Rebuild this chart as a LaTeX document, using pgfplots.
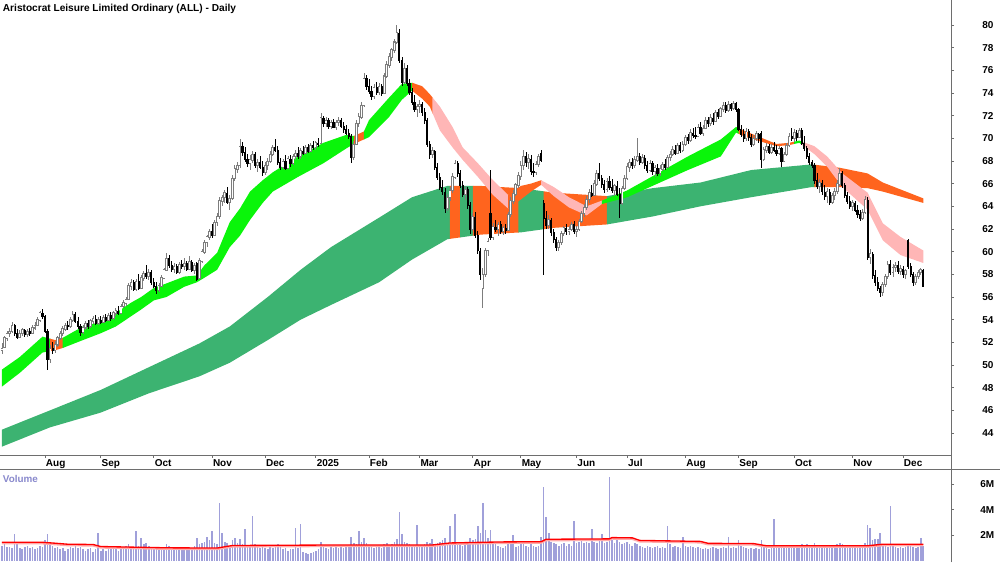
\documentclass[border=0pt]{standalone}
\usepackage{pgfplots}
\pgfplotsset{compat=1.18}
\usepackage{pgfplotstable}
\usepgfplotslibrary{fillbetween}
\usepackage{fontspec}
\setmainfont{Liberation Sans}
\definecolor{lgreen}{RGB}{10,245,10}
\definecolor{dgreen}{RGB}{60,179,113}
\definecolor{orng}{RGB}{255,100,30}
\definecolor{pnk}{RGB}{255,182,182}
\definecolor{volc}{RGB}{136,136,204}
\definecolor{volbar}{RGB}{160,160,218}
\definecolor{upc}{RGB}{125,125,125}
\definecolor{axc}{RGB}{110,110,110}
\definecolor{halo}{RGB}{255,170,170}

\pgfplotstableread{
i o h l c v
0 51.3 51.9 51.0 51.5 1.2
1 51.6 52.6 51.5 52.4 1.3
2 52.4 53.0 52.1 52.8 1.1
3 52.8 53.3 52.5 53.0 1.1
4 53.0 53.8 52.8 53.5 1.0
5 53.5 53.6 52.6 52.8 2.1
6 52.8 53.2 52.3 52.5 1.3
7 52.5 53.1 52.4 52.8 1.0
8 52.8 53.3 52.6 53.1 0.9
9 53.1 53.2 52.5 52.7 1.1
10 52.7 53.2 52.5 53.0 1.2
11 53.0 53.3 52.6 52.8 1.0
12 52.8 53.5 52.7 53.3 1.1
13 53.3 53.8 53.1 53.5 0.9
14 53.5 54.2 53.4 54.0 1.0
15 54.0 54.8 53.8 54.6 1.2
16 54.6 54.9 54.1 54.3 1.1
17 54.3 54.4 52.8 53.0 1.6
18 53.0 53.2 49.6 50.5 2.1
19 50.5 51.8 50.2 51.5 1.5
20 51.5 52.0 51.0 51.3 1.2
21 51.3 52.1 51.1 51.8 1.0
22 51.8 52.6 51.6 52.4 1.1
23 52.4 53.0 52.2 52.8 0.9
24 52.8 53.4 52.6 53.2 1.0
25 53.2 53.7 53.0 53.5 0.8
26 53.5 53.9 53.1 53.4 0.9
27 53.4 54.2 53.3 54.0 1.1
28 54.0 54.8 53.8 54.5 1.0
29 54.5 54.7 53.7 53.9 1.2
30 53.9 54.2 53.2 53.4 1.0
31 53.4 53.6 52.6 52.9 1.1
32 52.9 53.5 52.7 53.3 0.9
33 53.3 53.9 53.1 53.7 0.8
34 53.7 54.0 53.2 53.4 0.9
35 53.4 54.1 53.3 53.9 1.0
36 53.9 54.3 53.6 54.1 0.7
37 54.1 54.4 53.5 53.7 0.9
38 53.7 54.2 53.5 54.0 2.2
39 54.0 54.3 53.6 53.8 0.8
40 53.8 54.4 53.7 54.2 0.9
41 54.2 54.5 53.8 54.0 0.8
42 54.0 54.6 53.9 54.4 0.9
43 54.4 54.7 53.9 54.1 1.0
44 54.1 54.8 54.0 54.6 0.9
45 54.6 55.0 54.3 54.8 1.0
46 54.8 55.2 54.4 54.6 0.8
47 54.6 55.4 54.5 55.2 1.1
48 55.2 55.7 55.0 55.5 1.0
49 55.5 56.0 55.2 55.8 1.2
50 55.8 57.2 55.7 57.0 1.3
51 57.0 57.6 56.6 57.3 1.1
52 57.3 57.5 56.5 56.7 1.0
53 56.7 57.6 56.5 57.4 2.3
54 57.4 58.0 56.6 56.8 1.2
55 56.8 57.9 56.7 57.7 1.8
56 57.7 58.3 57.4 58.1 1.3
57 58.1 58.8 57.6 57.8 1.4
58 57.8 58.5 57.5 58.2 1.2
59 58.2 58.4 57.1 57.3 1.1
60 57.3 57.7 56.8 57.0 1.0
61 57.0 57.3 56.3 56.6 1.1
62 56.6 57.2 56.4 57.0 0.9
63 57.0 57.9 56.9 57.7 1.0
64 57.7 58.6 57.6 58.4 1.1
65 58.4 59.9 58.3 59.4 1.3
66 59.4 59.7 58.6 58.8 1.2
67 58.8 59.2 58.2 58.5 1.0
68 58.5 59.0 58.1 58.7 0.9
69 58.7 58.9 58.0 58.2 1.0
70 58.2 59.1 58.0 58.9 1.1
71 58.9 59.3 58.5 58.7 1.0
72 58.7 59.4 58.4 59.0 0.9
73 59.0 59.2 58.3 58.5 1.0
74 58.5 59.6 58.4 59.1 1.1
75 59.1 59.3 58.2 58.4 1.0
76 58.4 59.0 58.0 58.8 1.2
77 59.0 59.1 57.4 57.6 1.8
78 57.7 59.4 57.6 59.2 1.3
79 59.2 60.2 59.0 60.0 1.4
80 60.0 61.0 59.8 60.8 1.5
81 60.8 61.5 60.4 61.3 1.9
82 61.3 62.0 61.0 61.8 1.6
83 61.8 62.4 61.2 61.5 2.3
84 61.5 62.8 61.4 62.6 1.4
85 62.6 63.4 62.3 63.1 1.3
86 63.1 64.8 62.9 64.5 4.5
87 64.5 65.0 64.0 64.8 2.2
88 64.8 65.4 64.3 65.2 1.5
89 65.2 65.7 64.2 64.4 1.4
90 64.4 65.0 63.7 64.7 1.2
91 64.7 66.8 64.6 66.5 1.6
92 66.5 67.6 66.2 67.3 1.8
93 67.3 67.9 66.9 67.6 1.4
94 67.6 69.9 67.4 69.3 1.7
95 69.3 69.7 68.4 68.8 1.3
96 68.8 69.2 67.9 68.2 2.5
97 68.2 68.6 67.5 67.8 1.2
98 67.8 68.5 67.2 68.1 1.1
99 68.1 68.9 67.8 68.6 3.5
100 68.6 68.8 67.4 67.6 1.3
101 67.6 68.2 67.0 67.9 1.1
102 67.9 68.4 67.3 67.5 1.0
103 67.5 68.0 66.7 67.0 1.2
104 67.0 67.9 66.8 67.6 1.0
105 67.6 68.3 67.2 68.0 0.9
106 68.0 68.9 67.8 68.6 1.1
107 68.6 69.4 68.4 69.2 1.0
108 69.2 69.9 68.8 69.0 1.2
109 69.0 69.3 67.6 67.9 1.3
110 67.9 68.3 67.2 67.5 1.1
111 67.5 68.2 67.3 68.0 0.9
112 68.0 68.5 67.2 67.4 1.0
113 67.4 68.4 67.3 68.2 0.8
114 68.2 68.5 67.5 67.8 0.9
115 67.8 68.6 67.6 68.4 0.9
116 68.4 69.0 68.1 68.7 2.6
117 68.7 69.2 68.2 68.4 1.0
118 68.4 69.1 68.2 68.9 2.9
119 68.9 69.3 68.5 68.7 0.7
120 68.7 69.4 68.6 69.2 0.6
121 69.2 69.5 68.7 68.9 0.5
122 68.9 69.6 68.8 69.4 0.6
123 69.4 69.8 69.0 69.2 0.7
124 69.2 69.8 69.0 69.6 0.8
125 69.6 70.0 69.2 69.5 0.9
126 69.6 72.2 69.5 71.8 1.5
127 71.8 72.0 71.0 71.3 1.2
128 71.3 71.9 71.0 71.6 1.0
129 71.6 71.8 70.8 71.1 0.9
130 71.1 71.6 70.8 71.4 1.1
131 71.4 71.7 70.9 71.0 1.0
132 71.0 71.6 70.7 71.4 1.2
133 71.4 71.9 71.1 71.6 1.0
134 71.6 71.8 70.9 71.1 1.1
135 71.1 71.4 70.5 70.8 1.0
136 70.8 71.2 70.3 70.5 1.2
137 70.5 70.8 69.9 70.2 1.1
138 70.2 70.4 67.8 68.3 1.9
139 68.3 69.8 68.1 69.5 1.4
140 69.5 71.6 69.4 71.3 1.3
141 71.3 72.2 71.0 71.9 2.3
142 71.9 73.2 71.7 72.9 1.5
143 72.9 75.8 72.8 75.3 1.8
144 75.3 75.6 74.3 74.6 1.4
145 74.6 75.2 73.9 74.2 1.2
146 74.2 74.6 73.4 73.7 1.1
147 73.7 74.8 73.5 74.5 1.0
148 74.5 75.0 73.8 74.1 1.2
149 74.1 74.9 73.8 74.6 1.1
150 74.6 74.8 73.7 74.0 1.0
151 74.0 75.8 73.9 75.5 1.3
152 75.5 76.8 75.3 76.5 1.4
153 76.5 77.5 76.2 77.2 1.2
154 77.2 78.0 76.8 77.8 1.3
155 77.8 78.8 77.5 78.5 1.5
156 78.5 80.0 78.3 79.3 1.7
157 79.3 79.6 76.6 76.9 3.85
158 76.9 77.2 74.6 75.0 2.1
159 75.0 76.6 74.8 76.2 1.5
160 76.2 76.5 74.6 74.9 1.4
161 74.9 75.2 73.8 74.1 1.3
162 74.1 74.4 72.9 73.2 1.2
163 73.2 73.8 72.3 72.6 1.1
164 72.6 73.0 71.9 72.8 2.8
165 72.8 73.4 72.2 73.0 1.2
166 73.0 73.2 72.0 72.3 1.1
167 72.3 72.7 71.3 71.6 1.3
168 71.6 71.8 69.2 69.5 1.5
169 69.5 69.8 68.2 68.6 1.4
170 68.6 69.2 68.3 68.9 1.7
171 68.9 69.0 67.2 67.5 1.3
172 67.5 67.8 66.3 66.6 1.4
173 66.6 66.9 65.4 65.7 1.5
174 65.7 66.3 65.0 65.3 1.6
175 65.3 65.6 63.4 63.8 1.8
176 63.8 65.1 63.6 64.8 1.4
177 64.8 65.7 64.5 65.4 2.7
178 65.4 66.9 65.2 66.6 1.4
179 66.6 68.1 66.4 67.8 3.7
180 67.8 68.0 66.6 66.9 1.5
181 66.9 67.2 65.6 65.9 1.3
182 65.9 66.2 64.8 65.1 1.2
183 65.1 65.8 64.6 65.5 1.3
184 65.5 65.7 63.8 64.1 1.5
185 64.1 64.4 61.6 62.0 1.8
186 62.0 63.4 61.8 63.1 1.6
187 63.1 63.5 61.2 61.5 1.7
188 61.5 61.8 59.8 60.1 2.7
189 60.1 60.3 57.5 58.0 2.2
190 56.8 58.6 55.0 58.0 4.5
191 58.0 60.3 57.8 60.1 2.4
192 60.1 61.2 59.6 60.9 1.8
193 63.4 67.2 61.0 61.3 2.4
194 61.3 62.5 61.0 62.2 1.5
195 62.2 62.8 61.7 62.0 1.3
196 62.0 62.6 61.4 62.4 1.2
197 62.4 62.7 61.6 61.8 1.1
198 61.8 62.3 61.5 62.1 1.0
199 62.1 62.4 61.6 61.9 1.2
200 61.9 63.5 61.8 63.3 1.3
201 63.3 64.8 63.1 64.5 1.4
202 64.5 65.4 64.2 65.1 2.0
203 65.1 66.1 64.9 65.9 1.1
204 65.9 67.0 65.6 66.7 1.2
205 66.7 68.0 66.3 67.6 1.3
206 67.6 69.0 67.2 68.4 1.4
207 68.4 68.8 67.5 67.9 1.2
208 67.9 68.6 67.3 68.2 1.1
209 68.2 68.5 66.8 67.1 1.3
210 67.1 67.8 66.6 67.0 1.2
211 67.0 68.0 66.8 67.7 1.1
212 67.7 68.6 67.5 68.4 1.2
213 68.7 69.0 67.9 68.1 1.9
214 64.3 64.6 57.9 63.0 5.8
215 63.0 63.6 62.0 62.3 3.4
216 62.3 63.2 62.0 62.8 2.2
217 62.8 63.0 61.4 61.7 1.5
218 61.7 62.0 60.8 61.1 1.4
219 61.1 61.3 60.1 60.4 1.3
220 60.4 61.0 60.1 60.8 1.2
221 60.8 61.8 60.6 61.6 1.3
222 61.6 62.3 61.4 62.1 1.4
223 62.1 62.4 61.5 61.8 1.2
224 61.8 62.3 61.5 62.0 1.3
225 62.0 62.6 61.8 62.4 1.2
226 62.4 62.7 61.6 61.8 3.1
227 61.8 62.3 61.3 62.0 1.4
228 62.0 62.9 61.8 62.7 1.5
229 62.7 63.6 62.5 63.4 1.6
230 63.4 64.2 63.1 63.9 1.4
231 63.9 64.9 63.7 64.6 1.5
232 64.6 65.5 64.3 65.2 1.4
233 65.2 65.9 64.8 65.0 2.5
234 65.0 66.3 64.9 66.0 1.5
235 66.0 67.2 65.8 66.9 1.4
236 66.9 67.8 66.2 66.5 1.6
237 66.5 66.8 65.6 66.0 2.1
238 66.0 66.3 65.2 65.5 1.4
239 65.5 66.5 65.3 66.2 1.5
240 66.2 66.7 65.4 65.7 6.6
241 65.7 66.4 65.2 65.4 1.6
242 65.4 66.0 64.9 65.8 1.4
243 65.8 66.2 64.9 65.1 1.9
244 65.1 65.6 63.0 64.3 1.5
245 64.3 65.8 64.1 65.6 1.3
246 65.6 66.8 65.4 66.5 1.4
247 66.5 67.8 66.3 67.5 1.5
248 67.5 68.2 67.0 67.9 1.3
249 67.9 68.3 67.3 67.6 1.2
250 67.6 68.4 67.4 68.1 1.4
251 68.1 70.0 67.9 68.4 1.3
252 68.4 68.7 67.6 67.9 1.2
253 67.9 68.6 67.7 68.3 1.1
254 68.3 68.5 67.3 67.6 1.0
255 67.6 68.0 66.9 67.2 1.2
256 67.2 68.1 67.0 67.8 1.1
257 67.8 68.0 66.8 67.1 1.0
258 67.1 67.6 66.6 67.4 1.1
259 67.4 67.7 66.7 66.9 1.2
260 66.9 67.6 66.7 67.3 1.0
261 67.3 67.9 67.1 67.7 1.1
262 67.7 68.2 67.2 67.5 1.0
263 67.5 68.5 67.4 68.3 2.7
264 68.3 68.9 68.0 68.6 1.3
265 68.6 69.3 68.4 69.0 1.1
266 69.0 69.4 68.5 68.7 1.2
267 68.7 69.6 68.6 69.4 1.1
268 69.4 69.7 68.7 69.0 1.0
269 69.0 69.8 68.8 69.5 1.9
270 69.5 70.3 69.3 70.1 1.2
271 70.1 70.4 69.5 69.8 1.1
272 69.8 70.8 69.7 70.5 1.2
273 70.5 70.9 70.0 70.3 1.1
274 70.3 71.0 69.9 70.2 1.0
275 70.2 71.3 70.1 71.0 1.1
276 71.0 71.4 70.3 70.5 1.0
277 70.5 71.2 70.2 70.9 0.9
278 70.9 71.9 70.8 71.6 1.0
279 71.6 71.9 71.0 71.3 0.9
280 71.3 72.1 71.1 71.8 1.0
281 71.8 72.2 71.2 71.5 1.1
282 71.5 72.5 71.4 72.3 1.0
283 72.3 72.6 71.7 72.0 0.9
284 72.0 72.8 71.9 72.6 1.0
285 72.6 73.2 72.3 72.9 1.1
286 72.9 73.2 72.2 72.5 1.0
287 72.5 73.3 72.3 73.0 1.9
288 73.0 73.1 72.4 72.7 1.0
289 72.7 73.3 72.5 73.1 1.1
290 73.1 73.2 72.3 72.6 1.0
291 72.6 72.7 70.6 70.8 1.6
292 70.8 71.2 70.1 70.4 1.2
293 70.4 70.8 69.7 70.0 1.1
294 70.0 70.9 69.8 70.6 1.0
295 70.6 70.8 69.8 70.1 0.9
296 70.1 70.4 69.2 69.5 1.0
297 69.5 70.3 69.3 70.0 0.9
298 70.0 70.6 69.8 70.4 1.0
299 70.4 70.5 69.6 70.0 0.9
300 70.5 70.6 67.4 68.2 1.6
301 68.2 69.2 68.0 69.0 1.1
302 69.0 69.6 68.7 69.3 1.0
303 69.3 69.5 68.6 68.8 0.9
304 68.8 69.5 68.6 69.2 1.0
305 69.2 69.7 68.8 69.0 3.3
306 69.0 69.4 68.4 68.7 1.2
307 68.7 69.3 68.5 69.1 1.0
308 69.1 69.2 67.5 68.0 1.1
309 68.0 68.8 67.9 68.6 1.0
310 68.6 69.6 68.4 69.4 1.1
311 69.4 70.5 69.2 70.2 1.2
312 70.2 70.9 69.8 70.0 1.0
313 70.0 70.8 69.7 70.5 1.1
314 70.5 70.7 69.8 70.1 1.0
315 70.1 70.9 70.0 70.7 1.2
316 70.7 70.9 69.4 69.6 1.3
317 69.6 70.2 68.9 69.1 1.2
318 69.1 69.3 68.2 68.4 1.3
319 68.4 68.7 67.6 67.9 1.2
320 67.9 68.1 67.4 67.6 1.1
321 67.6 67.8 66.0 66.3 1.4
322 66.3 66.9 65.5 65.8 1.2
323 65.8 66.4 65.2 66.1 1.1
324 66.1 66.3 65.0 65.3 1.2
325 65.3 65.9 64.6 64.9 1.1
326 64.9 65.6 64.3 65.3 1.0
327 65.3 65.5 64.1 64.4 1.1
328 64.4 65.2 64.2 65.0 1.2
329 65.0 65.6 64.6 65.3 1.1
330 65.3 66.3 65.1 66.0 1.3
331 66.0 67.4 65.8 66.9 1.4
332 66.9 67.1 65.6 65.9 1.3
333 65.9 66.1 64.7 65.0 1.2
334 65.0 65.3 64.2 64.5 1.1
335 64.5 64.9 63.8 64.0 1.2
336 64.0 64.6 63.6 64.3 1.0
337 64.3 64.5 63.5 63.7 1.1
338 63.7 64.1 63.0 63.3 1.2
339 63.3 63.7 62.7 63.0 1.1
340 63.0 63.8 62.8 63.5 1.2
341 63.5 64.9 63.3 64.6 1.4
342 64.6 64.8 59.3 59.5 2.8
343 59.5 60.2 58.9 59.8 2.6
344 59.8 60.0 57.6 57.9 1.6
345 57.9 58.4 57.0 57.3 1.7
346 57.3 57.8 56.5 56.8 1.7
347 56.8 57.0 56.0 56.4 2.2
348 56.4 57.3 56.1 57.1 1.2
349 57.1 58.0 56.9 57.8 1.3
350 57.8 59.2 57.6 58.9 1.1
351 58.9 59.3 57.9 58.2 4.3
352 58.2 58.9 57.8 58.6 1.2
353 58.6 59.1 58.2 58.8 1.1
354 58.8 59.2 58.0 58.3 1.0
355 58.3 58.8 57.9 58.5 1.1
356 58.5 58.7 57.7 58.0 1.0
357 58.0 58.5 57.6 58.3 1.1
358 61.0 61.1 58.5 58.7 1.3
359 58.7 59.0 57.8 58.0 1.2
360 58.0 58.2 57.0 57.3 1.1
361 57.3 58.0 57.1 57.8 1.0
362 57.8 58.4 57.6 58.2 1.1
363 58.2 58.6 57.9 58.4 1.8
364 58.4 58.5 56.9 57.0 1.2
}\candles

\pgfplotstableread{
i su sl
0 49.6 48.1
7 50.7 49.3
16 52.5 51.1
21 52.2 51.3
24 52.4 51.5
32 53.4 52.2
39 53.8 52.8
45 54.6 53.4
51 55.5 54.3
55 56.0 54.9
60 56.8 55.7
65 57.2 56.0
72 57.8 56.9
77 57.9 57.3
80 58.8 57.7
85 59.9 58.4
90 62.6 60.4
94 63.8 61.4
98 65.3 62.8
103 66.3 64.3
107 67.0 65.3
117 68.4 66.6
127 69.6 67.8
136 70.3 69.1
139 70.2 69.5
143 70.6 69.9
145 71.6 70.1
153 73.6 71.9
158 74.8 73.4
162 74.9 74.2
166 74.6 73.5
169 73.9 72.8
173 72.8 70.7
178 71.0 69.2
182 69.2 68.1
188 67.8 66.6
194 66.3 65.0
200 65.0 63.8
205 65.8 64.6
209 66.0 65.3
213 66.3 65.9
218 65.7 64.9
224 64.8 63.9
231 64.0 63.2
237 64.5 64.2
247 65.4 64.8
259 66.9 66.0
271 68.4 67.2
284 69.9 68.4
290 71.0 70.5
294 70.6 70.1
306 69.5 69.3
311 69.6 69.4
315 69.8 69.6
321 69.3 68.6
326 68.4 67.5
332 66.9 65.7
342 65.2 63.7
348 62.5 61.0
355 61.3 59.7
364 60.1 59.0
}\shortr

\pgfplotstableread{
i lu ll
0 44.3 42.8
19 46.0 44.5
39 47.8 45.8
58 49.8 47.5
78 51.9 49.0
90 53.4 50.2
105 56.0 52.2
118 58.4 54.0
130 60.4 55.3
149 63.0 57.3
162 64.8 59.3
176 65.8 61.1
189 65.8 61.5
205 65.6 61.7
218 65.2 62.1
239 64.9 62.4
257 65.6 63.1
276 66.1 64.0
296 67.2 64.8
320 67.7 65.7
331 67.4 65.7
342 66.9 65.6
348 66.1 65.3
364 64.7 64.3
}\longr

\pgfplotstableread{
i m
0 1.45
16 1.45
21 1.38
26 1.30
36 1.28
39 1.12
65 1.02
85 1.00
91 1.20
131 1.24
170 1.24
177 1.40
197 1.48
213 1.50
215 1.69
240 1.72
241 1.82
249 1.80
252 1.60
276 1.52
279 1.37
297 1.35
302 1.18
342 1.18
348 1.30
364 1.30
}\volma

\newcommand{\seg}[4]{\addplot [fill=#1] fill between [of=#2, soft clip={(axis cs:#3,40) rectangle (axis cs:#4,85)}];}

\begin{document}
\begin{tikzpicture}
\begin{axis}[
  at={(0pt,80.25pt)}, anchor=south west,
  scale only axis, width=713.25pt, height=341.25pt,
  xmin=-0.79, xmax=374.95, ymin=42.06, ymax=82.2,
  axis x line*=bottom, axis y line*=right,
  axis line style={draw=axc, line width=0.6pt},
  tick align=outside, major tick length=2.25pt,
  tick style={draw=axc, line width=0.6pt},
  ytick={44,46,...,80},
  /pgf/number format/assume math mode=true,
  yticklabel style={font=\bfseries\fontsize{7.5}{9}\selectfont, anchor=west, inner sep=0pt},
  yticklabel shift=21pt,
  xtick={17,39,60,83,104,124,145,165,186,205,227,247,270,291,313,336,356},
  xticklabels={Aug,Sep,Oct,Nov,Dec,2025,Feb,Mar,Apr,May,Jun,Jul,Aug,Sep,Oct,Nov,Dec},
  xticklabel style={font=\bfseries\fontsize{7.5}{9}\selectfont, anchor=base west, inner sep=0pt, xshift=0.5pt, yshift=-6pt},
]
% long ribbon
\addplot [draw=none, name path=lu] table [x=i, y=lu] {\longr};
\addplot [draw=none, name path=ll] table [x=i, y=ll] {\longr};
\seg{dgreen}{lu and ll}{-1}{177.2}
\seg{orng}{lu and ll}{177}{181.2}
\seg{dgreen}{lu and ll}{181}{186.2}
\seg{orng}{lu and ll}{186}{204.2}
\seg{dgreen}{lu and ll}{204}{214.2}
\seg{orng}{lu and ll}{214}{239.2}
\seg{dgreen}{lu and ll}{239}{321.2}
\seg{orng}{lu and ll}{321}{365}
% short ribbon
\addplot [draw=none, name path=su] table [x=i, y=su] {\shortr};
\addplot [draw=none, name path=sl] table [x=i, y=sl] {\shortr};
\seg{lgreen}{su and sl}{-1}{19.2}
\seg{orng}{su and sl}{19}{24.2}
\seg{lgreen}{su and sl}{24}{139.2}
\seg{orng}{su and sl}{139}{143.2}
\seg{lgreen}{su and sl}{143}{162.2}
\seg{orng}{su and sl}{162}{170.2}
\seg{pnk}{su and sl}{170}{200.2}
\seg{orng}{su and sl}{200}{213.2}
\seg{pnk}{su and sl}{213}{237.2}
\seg{lgreen}{su and sl}{237}{291.2}
\seg{orng}{su and sl}{291}{313.2}
\seg{lgreen}{su and sl}{313}{316.2}
\seg{pnk}{su and sl}{316}{365}
% up candles: wicks and hollow bodies
\addplot [draw=none, mark=none, restrict expr to domain={\thisrow{c}-\thisrow{o}}{0:100},
  error bars/.cd, y dir=both, y explicit, error mark=none,
  error bar style={draw=upc, line width=0.6pt}]
  table [x=i, y=c, y error plus expr=\thisrow{h}-\thisrow{c}, y error minus expr=\thisrow{c}-\thisrow{l}] {\candles};
\addplot [draw=none, mark=none, restrict expr to domain={\thisrow{c}-\thisrow{o}}{0:100},
  error bars/.cd, y dir=minus, y explicit, error mark=none,
  error bar style={draw=upc, line width=2.0pt}]
  table [x=i, y expr=\thisrow{c}+0.04, y error minus expr=\thisrow{c}-\thisrow{o}+0.12] {\candles};
\addplot [draw=none, mark=none, restrict expr to domain={\thisrow{c}-\thisrow{o}}{0.2:100},
  error bars/.cd, y dir=minus, y explicit, error mark=none,
  error bar style={draw=white, line width=0.85pt}]
  table [x=i, y expr=\thisrow{c}-0.05, y error minus expr=\thisrow{c}-\thisrow{o}-0.06] {\candles};
% down candles
\addplot [draw=none, mark=none, restrict expr to domain={\thisrow{c}-\thisrow{o}}{-100:-0.001},
  error bars/.cd, y dir=both, y explicit, error mark=none,
  error bar style={draw=black, line width=0.6pt}]
  table [x=i, y=c, y error plus expr=\thisrow{h}-\thisrow{c}, y error minus expr=\thisrow{c}-\thisrow{l}] {\candles};
\addplot [draw=none, mark=none, restrict expr to domain={\thisrow{c}-\thisrow{o}}{-100:-0.001},
  error bars/.cd, y dir=minus, y explicit, error mark=none,
  error bar style={draw=black, line width=1.6pt}]
  table [x=i, y=o, y error minus expr=\thisrow{o}-\thisrow{c}+0.08] {\candles};
\end{axis}

\begin{axis}[
  at={(0pt,0pt)}, anchor=south west,
  scale only axis, width=713.25pt, height=69.75pt,
  xmin=-0.79, xmax=374.95, ymin=-0.094, ymax=7.2,
  axis x line=none, axis y line*=right,
  axis line style={draw=axc, line width=0.6pt},
  tick align=outside, major tick length=2.25pt,
  tick style={draw=axc, line width=0.6pt},
  xtick=\empty,
  ytick={2,4,6}, yticklabels={2M,4M,6M},
  yticklabel style={font=\bfseries\fontsize{7.5}{9}\selectfont, anchor=west, inner sep=0pt},
  yticklabel shift=19.5pt,
]
\addplot [ycomb, draw=volbar, line width=1.2pt, mark=none] table [x=i, y=v] {\candles};
\addplot [draw=halo, line width=1.6pt, yshift=-0.8pt] table [x=i, y=m] {\volma};
\addplot [draw=red, line width=1.0pt] table [x=i, y=m] {\volma};
\end{axis}

\draw[axc, line width=0.6pt] (0,69.75pt) -- (750pt,69.75pt);
\draw[axc, line width=0.6pt] (713.25pt,0) -- (713.25pt,421.5pt);
\node[anchor=base west, inner sep=0pt, font=\bfseries\fontsize{7.6}{9}\selectfont] at (2pt,412.7pt) {Aristocrat Leisure Limited Ordinary (ALL) - Daily};
\node[anchor=base west, inner sep=0pt, text=volc, font=\bfseries\fontsize{7.4}{9}\selectfont] at (2pt,60pt) {Volume};
\pgfresetboundingbox
\path[use as bounding box] (0,0) rectangle (750pt,421.5pt);
\end{tikzpicture}
\end{document}
